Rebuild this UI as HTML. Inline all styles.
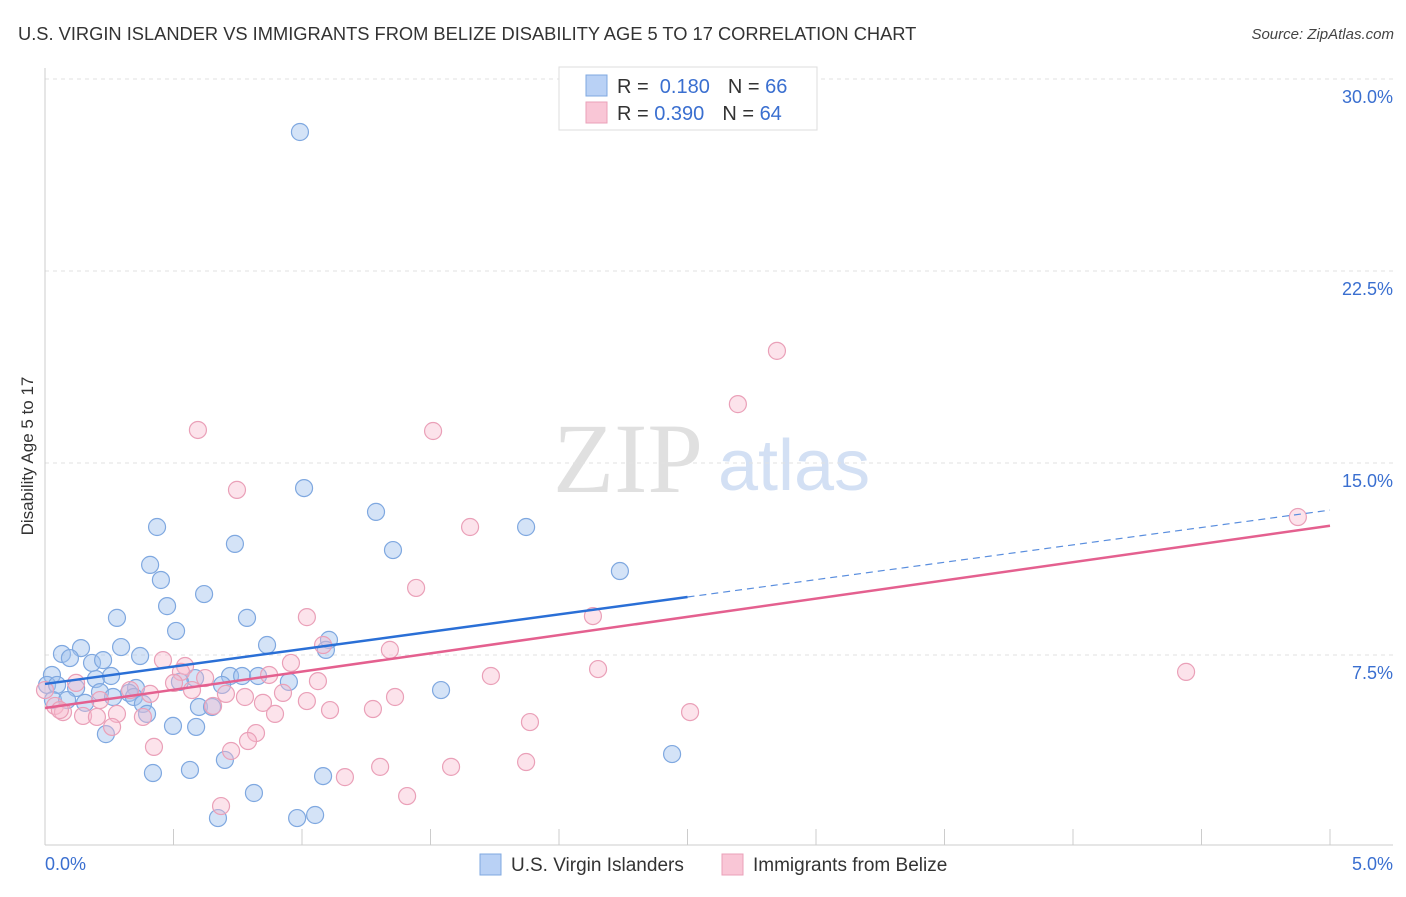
<!DOCTYPE html>
<html><head><meta charset="utf-8"><style>
body{margin:0;background:#fff;font-family:"Liberation Sans",sans-serif;}
</style></head><body>
<svg width="1406" height="892" viewBox="0 0 1406 892" style="font-family:'Liberation Sans',sans-serif">
<text x="18" y="40" font-size="18.3" fill="#333">U.S. VIRGIN ISLANDER VS IMMIGRANTS FROM BELIZE DISABILITY AGE 5 TO 17 CORRELATION CHART</text>
<text x="1394" y="39" font-size="15" fill="#444" text-anchor="end" font-style="italic">Source: ZipAtlas.com</text>
<g>
<text x="553" y="492" font-size="100" fill="#e0e0e0" style="font-family:'Liberation Serif',serif">ZIP</text>
<text x="718" y="490" font-size="72" fill="#d3e0f4">atlas</text>
</g>
<g id="grid"></g>
<g id="axes"></g>
<g id="pts"></g>
<g id="trend"></g>
<text x="33" y="456" font-size="17" fill="#333" text-anchor="middle" transform="rotate(-90 33 456)">Disability Age 5 to 17</text>
<g>
<rect x="559" y="67" width="258" height="63" fill="#fff" stroke="#ddd"/>
<rect x="586" y="75" width="21" height="21" fill="#b9d1f5" stroke="#7fa8e0"/>
<rect x="586" y="102" width="21" height="21" fill="#f9c6d6" stroke="#eaa0b8"/>
<text x="617" y="93" font-size="20" fill="#333">R = <tspan fill="#3a6fd0">&#160;0.180</tspan><tspan dx="18">N = </tspan><tspan fill="#3a6fd0">66</tspan></text>
<text x="617" y="120" font-size="20" fill="#333">R = <tspan fill="#3a6fd0">0.390</tspan><tspan dx="18">N = </tspan><tspan fill="#3a6fd0">64</tspan></text>
</g>
<g>
<rect x="480" y="854" width="21" height="21" fill="#b9d1f5" stroke="#7fa8e0"/>
<text x="511" y="871" font-size="19" fill="#333">U.S. Virgin Islanders</text>
<rect x="722" y="854" width="21" height="21" fill="#f9c6d6" stroke="#eaa0b8"/>
<text x="753" y="871" font-size="19" fill="#333">Immigrants from Belize</text>
</g>
</svg>
<script>
const yTicks=[7.5,15,22.5,30];
const yTickLabels=["7.5%","15.0%","22.5%","30.0%"];
const xTickLabels=["0.0%","5.0%"];
const blueX=[0.992,1.008,0.436,1.288,1.872,0.739,1.354,0.409,0.451,2.237,0.619,0.475,0.280,0.786,0.510,0.864,1.105,0.296,0.066,0.140,0.370,0.097,0.183,0.226,0.027,0.198,0.257,0.584,0.720,0.767,0.829,0.525,0.949,0.689,0.008,0.047,0.121,0.214,0.354,0.327,0.346,0.265,0.031,0.086,0.156,0.381,0.599,0.650,1.541,0.397,0.498,0.588,0.237,0.700,2.440,0.420,0.564,1.082,0.813,0.673,0.981,1.051,1.093];
const blueY=[27.93,14.02,12.50,13.09,12.50,11.84,11.60,11.02,10.43,10.78,9.88,9.41,8.95,8.95,8.44,7.89,8.09,7.81,7.54,7.77,7.46,7.38,7.19,7.30,6.72,6.56,6.68,6.60,6.68,6.68,6.68,6.45,6.45,6.33,6.33,6.33,6.21,6.05,6.21,6.02,5.86,5.86,5.74,5.74,5.63,5.59,5.47,5.47,6.13,5.20,4.73,4.69,4.41,3.40,3.63,2.89,3.01,2.77,2.11,1.13,1.13,1.25,7.70];
const pinkX=[2.848,2.696,1.510,0.595,0.747,1.654,4.875,1.444,1.019,2.132,1.082,1.342,0.957,2.152,1.735,4.440,0.459,0.545,0.529,0.623,1.062,0.872,0.502,0.121,0.000,0.572,0.409,0.704,0.778,0.926,1.362,1.019,0.848,0.654,0.039,0.070,0.214,0.280,0.148,0.202,0.381,0.895,1.109,1.276,1.887,2.510,0.261,0.821,0.424,0.790,0.724,1.167,1.304,1.580,1.872,1.409,0.685,0.058,0.331];
const pinkY=[19.38,17.30,16.25,16.29,13.95,12.50,12.89,10.12,8.98,9.02,7.89,7.70,7.19,6.95,6.68,6.84,7.30,7.07,6.84,6.60,6.48,6.72,6.41,6.41,6.13,6.13,5.98,5.98,5.86,6.02,5.86,5.70,5.63,5.51,5.51,5.27,5.74,5.20,5.12,5.08,5.08,5.20,5.35,5.39,4.88,5.27,4.69,4.45,3.91,4.14,3.75,2.73,3.13,3.13,3.32,1.99,1.60,5.35,6.13];
const blueTrend=[6.37,13.16];
const pinkTrend=[5.43,12.55];
const NS="http://www.w3.org/2000/svg";
const X=v=>45+v*257, Y=v=>847-v*25.6;
function mk(t,a,p){const e=document.createElementNS(NS,t);for(const k in a)e.setAttribute(k,a[k]);p.appendChild(e);return e;}
const grid=document.getElementById('grid'),axes=document.getElementById('axes'),pts=document.getElementById('pts'),trend=document.getElementById('trend');
yTicks.forEach((t,i)=>{
 const l=mk('line',{x1:45,x2:1393,y1:Y(t),y2:Y(t),stroke:'#e2e2e2','stroke-dasharray':'4 4'},grid);
 
 
 const tx=mk('text',{x:1393,y:Y(t)+24,'font-size':18,fill:'#3a6fd0','text-anchor':'end'},axes);
 tx.textContent=yTickLabels[i];
 
 
});
let a=mk('line',{x1:45,x2:45,y1:68,y2:845,stroke:'#ccc'},axes);


a=mk('line',{x1:45,x2:1393,y1:845,y2:845,stroke:'#ccc'},axes);


for(let i=0;i<=10;i++){const t=mk('line',{x1:X(i*0.5),x2:X(i*0.5),y1:829,y2:845,stroke:'#ccc'},axes);
 
 }
[[0,'start',45],[1,'end',1393]].forEach(([i,an,x])=>{const t=mk('text',{x:x,y:870,'font-size':18,fill:'#3a6fd0','text-anchor':an},axes);t.textContent=xTickLabels[i];
 
 });
blueX.forEach((v,i)=>{const c=mk('circle',{cx:X(v),cy:Y(blueY[i]),r:8.5,fill:'rgba(160,192,238,0.45)',stroke:'#7fa8e0','stroke-width':1.2},pts);
 
 });
pinkX.forEach((v,i)=>{const c=mk('circle',{cx:X(v),cy:Y(pinkY[i]),r:8.5,fill:'rgba(248,185,205,0.4)',stroke:'#eaa0b8','stroke-width':1.2},pts);
 
 });
const bAt=v=>blueTrend[0]+(blueTrend[1]-blueTrend[0])*v/5;
let t1=mk('line',{x1:X(0),y1:Y(bAt(0)),x2:X(2.5),y2:Y(bAt(2.5)),stroke:'#2a6fd6','stroke-width':2.5},trend);


let t2=mk('line',{x1:X(2.5),y1:Y(bAt(2.5)),x2:X(5),y2:Y(bAt(5)),stroke:'#5a8ede','stroke-width':1.2,'stroke-dasharray':'7 5'},trend);


let t3=mk('line',{x1:X(0),y1:Y(pinkTrend[0]),x2:X(5),y2:Y(pinkTrend[1]),stroke:'#e4608f','stroke-width':2.5},trend);


</script>
</body></html>
